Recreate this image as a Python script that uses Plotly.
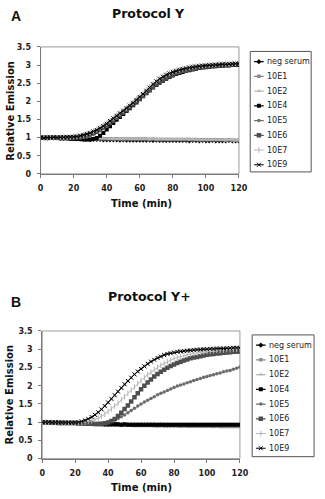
import plotly.graph_objects as go

W, H = 325, 499

TIME = [0, 2, 4, 6, 8, 10, 12, 14, 16, 18, 20, 22, 24, 26, 28, 30, 32, 34, 36, 38,
        40, 42, 44, 46, 48, 50, 52, 54, 56, 58, 60, 62, 64, 66, 68, 70, 72, 74, 76, 78,
        80, 82, 84, 86, 88, 90, 92, 94, 96, 98, 100, 102, 104, 106, 108, 110, 112, 114,
        116, 118, 120]

SERIES = ["neg serum", "10E1", "10E2", "10E4", "10E5", "10E6", "10E7", "10E9"]

# ---------------- Panel A : Protocol Y ----------------
A_neg = [1.00,0.99,0.99,1.00,0.99,0.99,0.98,0.98,0.98,0.98,
         0.97,0.97,0.96,0.96,0.96,0.95,0.95,0.95,0.95,0.94,
         0.94,0.94,0.94,0.94,0.93,0.94,0.93,0.93,0.93,0.93,
         0.93,0.93,0.93,0.93,0.92,0.93,0.92,0.92,0.92,0.92,
         0.92,0.92,0.92,0.92,0.92,0.91,0.92,0.92,0.91,0.92,
         0.91,0.91,0.92,0.91,0.91,0.91,0.91,0.92,0.91,0.91,0.91]
A_10E1 = [0.98,0.99,0.99,0.98,0.99,0.99,0.99,0.98,0.99,0.99,
          0.98,0.98,0.98,0.98,0.97,0.97,0.97,0.97,0.97,0.97,
          0.97,0.97,0.96,0.97,0.96,0.96,0.96,0.96,0.96,0.96,
          0.96,0.96,0.96,0.95,0.96,0.95,0.95,0.95,0.95,0.95,
          0.95,0.95,0.95,0.95,0.95,0.95,0.94,0.95,0.94,0.94,
          0.94,0.94,0.94,0.94,0.94,0.94,0.93,0.94,0.93,0.93,0.93]
A_10E2 = [1.00,1.00,1.00,1.01,1.00,1.00,1.00,1.00,1.00,0.99,
          0.99,0.99,0.99,0.98,0.98,0.98,0.98,0.98,0.98,0.98,
          0.98,0.97,0.97,0.97,0.97,0.97,0.98,0.97,0.97,0.97,
          0.97,0.97,0.97,0.96,0.97,0.96,0.96,0.96,0.96,0.96,
          0.96,0.96,0.96,0.96,0.96,0.95,0.96,0.95,0.95,0.95,
          0.95,0.95,0.95,0.95,0.95,0.95,0.95,0.94,0.95,0.94,0.94]
A_10E4 = [0.99,0.99,1.00,0.99,0.99,0.99,0.98,0.98,0.98,0.97,
          0.97,0.96,0.96,0.95,0.95,0.95,0.96,0.99,1.05,1.13,
          1.22,1.31,1.40,1.49,1.57,1.65,1.73,1.81,1.89,1.97,
          2.06,2.14,2.22,2.30,2.38,2.45,2.51,2.57,2.62,2.67,
          2.71,2.75,2.78,2.81,2.84,2.86,2.88,2.90,2.92,2.93,
          2.94,2.95,2.96,2.97,2.98,2.98,2.99,2.99,3.00,3.00,3.00]
A_10E5 = [1.00,0.99,1.00,1.00,0.99,1.00,1.00,0.99,0.99,0.99,
          0.99,0.99,0.99,1.00,1.02,1.05,1.09,1.14,1.19,1.25,
          1.31,1.38,1.46,1.53,1.60,1.68,1.75,1.83,1.91,1.99,
          2.07,2.15,2.23,2.31,2.39,2.46,2.53,2.59,2.64,2.69,
          2.73,2.77,2.80,2.83,2.86,2.88,2.90,2.92,2.93,2.95,
          2.96,2.97,2.98,2.99,2.99,3.00,3.00,3.01,3.01,3.02,3.02]
A_10E6 = [1.00,1.00,0.99,1.00,1.00,1.00,1.00,1.00,1.01,1.00,
          1.01,1.02,1.03,1.05,1.07,1.10,1.13,1.17,1.22,1.28,
          1.34,1.41,1.48,1.55,1.62,1.69,1.76,1.84,1.92,2.00,
          2.08,2.16,2.24,2.32,2.40,2.47,2.54,2.60,2.65,2.70,
          2.74,2.78,2.81,2.84,2.86,2.88,2.90,2.92,2.94,2.95,
          2.96,2.97,2.98,2.99,3.00,3.00,3.01,3.01,3.02,3.02,3.03]
A_10E7 = [1.00,1.00,1.00,1.00,1.01,1.00,1.01,1.01,1.01,1.02,
          1.03,1.04,1.06,1.08,1.11,1.14,1.18,1.23,1.28,1.34,
          1.40,1.47,1.54,1.61,1.68,1.75,1.82,1.90,1.98,2.06,
          2.14,2.22,2.31,2.40,2.48,2.56,2.63,2.69,2.74,2.78,
          2.82,2.85,2.88,2.90,2.92,2.94,2.96,2.97,2.98,2.99,
          3.00,3.01,3.02,3.02,3.03,3.03,3.04,3.04,3.05,3.05,3.06]
A_10E9 = [1.00,0.99,1.00,1.00,1.01,1.00,1.01,1.01,1.01,1.02,
          1.02,1.03,1.05,1.07,1.10,1.13,1.17,1.21,1.26,1.32,
          1.38,1.46,1.53,1.60,1.67,1.74,1.81,1.88,1.96,2.04,
          2.12,2.20,2.29,2.38,2.47,2.55,2.62,2.68,2.73,2.77,
          2.81,2.84,2.87,2.89,2.91,2.93,2.95,2.96,2.97,2.98,
          2.99,3.00,3.00,3.01,3.01,3.02,3.02,3.03,3.03,3.04,3.04]

# ---------------- Panel B : Protocol Y+ ----------------
B_neg = [1.00,1.00,0.99,0.99,0.99,0.98,0.98,0.98,0.98,0.98,
         0.98,0.98,0.97,0.97,0.96,0.96,0.95,0.95,0.95,0.94,
         0.94,0.94,0.94,0.93,0.93,0.93,0.93,0.93,0.93,0.93,
         0.93,0.93,0.93,0.93,0.93,0.92,0.93,0.92,0.92,0.92,
         0.92,0.92,0.92,0.92,0.92,0.92,0.92,0.92,0.92,0.92,
         0.92,0.92,0.92,0.92,0.92,0.92,0.92,0.92,0.92,0.92,0.92]
B_10E1 = [0.99,0.99,0.99,0.98,0.98,0.98,0.98,0.97,0.97,0.97,
          0.97,0.96,0.96,0.96,0.95,0.95,0.94,0.94,0.94,0.93,
          0.93,0.93,0.93,0.92,0.92,0.92,0.92,0.92,0.91,0.91,
          0.91,0.91,0.91,0.91,0.90,0.90,0.90,0.90,0.90,0.90,
          0.90,0.90,0.89,0.90,0.89,0.89,0.89,0.89,0.89,0.89,
          0.89,0.89,0.88,0.89,0.88,0.88,0.88,0.88,0.88,0.88,0.88]
B_10E2 = [1.01,1.00,1.00,1.00,1.00,0.99,0.99,0.99,0.99,0.99,
          0.99,1.00,1.02,1.05,1.09,1.14,1.20,1.27,1.35,1.44,
          1.53,1.63,1.73,1.83,1.93,2.03,2.13,2.22,2.31,2.39,
          2.47,2.54,2.61,2.67,2.72,2.77,2.81,2.85,2.88,2.90,
          2.92,2.94,2.95,2.96,2.97,2.98,2.99,3.00,3.00,3.01,
          3.01,3.02,3.02,3.03,3.03,3.03,3.04,3.04,3.05,3.05,3.05]
B_10E4 = [1.00,1.00,0.99,0.99,0.99,0.99,0.98,0.98,0.98,0.98,
          0.98,0.97,0.97,0.96,0.96,0.96,0.95,0.95,0.94,0.94,
          0.94,0.94,0.94,0.94,0.93,0.94,0.93,0.93,0.93,0.93,
          0.93,0.93,0.93,0.93,0.93,0.93,0.93,0.93,0.93,0.93,
          0.93,0.93,0.93,0.93,0.93,0.93,0.93,0.93,0.93,0.93,
          0.93,0.93,0.93,0.93,0.93,0.93,0.93,0.93,0.93,0.93,0.93]
B_10E5 = [1.00,0.99,0.99,0.99,0.99,0.98,0.98,0.98,0.98,0.98,
          0.98,0.97,0.97,0.97,0.96,0.96,0.96,0.96,0.96,0.97,
          0.99,1.02,1.06,1.10,1.15,1.20,1.26,1.32,1.38,1.44,
          1.50,1.55,1.60,1.65,1.70,1.75,1.79,1.83,1.87,1.91,
          1.95,1.99,2.02,2.05,2.08,2.11,2.14,2.17,2.20,2.23,
          2.25,2.28,2.30,2.33,2.35,2.38,2.40,2.42,2.45,2.48,2.51]
B_10E6 = [1.00,1.00,0.99,0.99,0.99,0.98,0.98,0.98,0.98,0.98,
          0.98,0.97,0.97,0.96,0.96,0.96,0.95,0.95,0.96,0.97,
          0.99,1.03,1.09,1.17,1.26,1.36,1.46,1.57,1.68,1.79,
          1.90,2.00,2.09,2.17,2.25,2.32,2.38,2.44,2.49,2.54,
          2.58,2.62,2.66,2.69,2.72,2.75,2.77,2.79,2.81,2.83,
          2.85,2.86,2.87,2.88,2.89,2.90,2.91,2.92,2.93,2.93,2.94]
B_10E7 = [1.00,1.00,0.99,0.99,0.99,0.99,0.98,0.98,0.98,0.98,
          0.98,0.98,0.98,1.00,1.02,1.04,1.07,1.11,1.16,1.22,
          1.29,1.36,1.44,1.52,1.61,1.70,1.79,1.88,1.97,2.06,
          2.14,2.22,2.30,2.37,2.44,2.50,2.56,2.61,2.66,2.70,
          2.74,2.77,2.80,2.83,2.85,2.87,2.89,2.90,2.92,2.93,
          2.94,2.95,2.96,2.97,2.97,2.98,2.99,2.99,3.00,3.00,3.01]
B_10E9 = [1.00,1.00,1.00,0.99,0.99,0.99,0.99,0.99,0.99,0.99,
          0.99,1.00,1.02,1.05,1.09,1.14,1.20,1.27,1.35,1.44,
          1.54,1.64,1.74,1.84,1.94,2.04,2.13,2.22,2.31,2.39,
          2.46,2.53,2.60,2.66,2.71,2.76,2.80,2.84,2.87,2.89,
          2.91,2.93,2.94,2.95,2.96,2.97,2.98,2.99,2.99,3.00,
          3.00,3.01,3.01,3.02,3.02,3.02,3.03,3.03,3.04,3.04,3.04]

PANEL_A = [A_neg, A_10E1, A_10E2, A_10E4, A_10E5, A_10E6, A_10E7, A_10E9]
PANEL_B = [B_neg, B_10E1, B_10E2, B_10E4, B_10E5, B_10E6, B_10E7, B_10E9]

X_TICKS = [0, 20, 40, 60, 80, 100, 120]
Y_TICKS = [0, 0.5, 1, 1.5, 2, 2.5, 3, 3.5]
Y_TICKTEXT = ["0", "0.5", "1", "1.5", "2", "2.5", "3", "3.5"]

# styles: (line color, marker symbol, marker size, marker color)
STYLE = {
    "neg serum": ("#000000", "diamond", 4, "#000000"),
    "10E1": ("#8a8a8a", "square", 3.5, "#8a8a8a"),
    "10E2": ("#b8b8b8", "triangle-up", 4, "#b8b8b8"),
    "10E4": ("#000000", "square", 4, "#000000"),
    "10E5": ("#6e6e6e", "circle", 3.5, "#6e6e6e"),
    "10E6": ("#4e4e4e", "square", 4.5, "#4e4e4e"),
    "10E7": ("#b4b4b4", "line-ns-open", 4, "#b4b4b4"),
    "10E9": ("#000000", "x-thin-open", 4, "#000000"),
}

FONT = "DejaVu Sans"


def mk_marker(name):
    lc, sym, sz, mc = STYLE[name]
    m = dict(symbol=sym, size=sz, color=mc)
    if "open" in sym:
        m["line"] = dict(width=1, color=mc)
    else:
        m["line"] = dict(width=0)
    return m


fig = go.Figure()

for panel, (xa, ya) in zip([PANEL_A, PANEL_B], [("x", "y"), ("x2", "y2")]):
    for name, vals in zip(SERIES, panel):
        lc = STYLE[name][0]
        fig.add_trace(go.Scatter(
            x=TIME, y=vals, name=name, mode="lines+markers",
            line=dict(color=lc, width=1), marker=mk_marker(name),
            xaxis=xa, yaxis=ya, showlegend=False, hoverinfo="skip"))

# ---- custom legends (one per panel) ----
LEG_BOXES = [(256.7, 48.3, 320.0, 171.0, "x3", "y3"),
             (258.7, 337.0, 323.0, 461.0, "x4", "y4")]
annotations = []
shapes = []
for (x0, y0, x1, y1, xa, ya) in LEG_BOXES:
    w, h = x1 - x0, y1 - y0
    for i, name in enumerate(SERIES):
        yy = 10.4 + 15 * i
        lc = STYLE[name][0]
        fig.add_trace(go.Scatter(x=[4, 14], y=[yy, yy], mode="lines",
                                 line=dict(color=lc, width=1.2),
                                 xaxis=xa, yaxis=ya, showlegend=False, hoverinfo="skip"))
        fig.add_trace(go.Scatter(x=[9], y=[yy], mode="markers", marker=mk_marker(name),
                                 xaxis=xa, yaxis=ya, showlegend=False, hoverinfo="skip"))
        annotations.append(dict(x=15.3, y=yy, xref=xa, yref=ya, text=name, showarrow=False,
                                xanchor="left", yanchor="middle",
                                font=dict(family=FONT, size=8, color="#222")))
    shapes.append(dict(type="rect", xref=xa + " domain", yref=ya + " domain",
                       x0=0, x1=1, y0=0, y1=1, line=dict(color="#555", width=1)))


def px(x):
    return x / W


def py(y):
    return 1 - y / H


axis_common = dict(showgrid=False, zeroline=False, showline=True, linecolor="#7a7a7a",
                   linewidth=1, ticks="outside", ticklen=3, tickcolor="#7a7a7a",
                   ticklabelstandoff=4,
                   tickfont=dict(family=FONT, size=8, color="#222", weight="bold"))

layout = dict(
    width=W, height=H, margin=dict(l=0, r=0, t=0, b=0),
    paper_bgcolor="white", plot_bgcolor="white", showlegend=False,
    xaxis=dict(domain=[px(39), px(245)], anchor="y", range=[0, 120],
               tickvals=X_TICKS, **axis_common),
    yaxis=dict(domain=[py(173), py(43.7)], anchor="x", range=[0, 3.5],
               tickvals=Y_TICKS, ticktext=Y_TICKTEXT, **axis_common),
    xaxis2=dict(domain=[px(40.7), px(246)], anchor="y2", range=[0, 120],
                tickvals=X_TICKS, **axis_common),
    yaxis2=dict(domain=[py(463), py(333)], anchor="x2", range=[0, 3.5],
                tickvals=Y_TICKS, ticktext=Y_TICKTEXT, **axis_common),
)
for (x0, y0, x1, y1, xa, ya) in LEG_BOXES:
    n = xa[1:]
    layout["xaxis" + n] = dict(domain=[px(x0), px(x1)], anchor="y" + n, range=[0, x1 - x0],
                               visible=False, fixedrange=True)
    layout["yaxis" + n] = dict(domain=[py(y1), py(y0)], anchor="x" + n, range=[y1 - y0, 0],
                               visible=False, fixedrange=True)

# plot-area frames (gray top/right)
for xa, ya in [("x", "y"), ("x2", "y2")]:
    shapes.append(dict(type="rect", xref=xa + " domain", yref=ya + " domain",
                       x0=0, x1=1, y0=0, y1=1, line=dict(color="#9a9a9a", width=1),
                       layer="below"))

TEXTS = [
    ("A", 14, 12, 14, 0, "Arial"),
    ("B", 14, 303, 14, 0, "Arial"),
    ("Protocol Y", 151, 9.5, 12.5, 0, FONT),
    ("Protocol Y+", 152, 298, 12.5, 0, FONT),
    ("Relative Emission", 7, 109, 10, -90, FONT),
    ("Relative Emission", 7, 398, 10, -90, FONT),
    ("Time (min)", 144, 203, 10, 0, FONT),
    ("Time (min)", 144, 492, 10, 0, FONT),
]
for t, x, y, s, ang, fam in TEXTS:
    annotations.append(dict(x=px(x), y=py(y), xref="paper", yref="paper", text="<b>" + t + "</b>",
                            showarrow=False, xanchor="center", yanchor="middle", textangle=ang,
                            font=dict(family=fam, size=s, color="#111")))

layout["annotations"] = annotations
layout["shapes"] = shapes
fig.update_layout(**layout)

fig.write_html("out.html")
